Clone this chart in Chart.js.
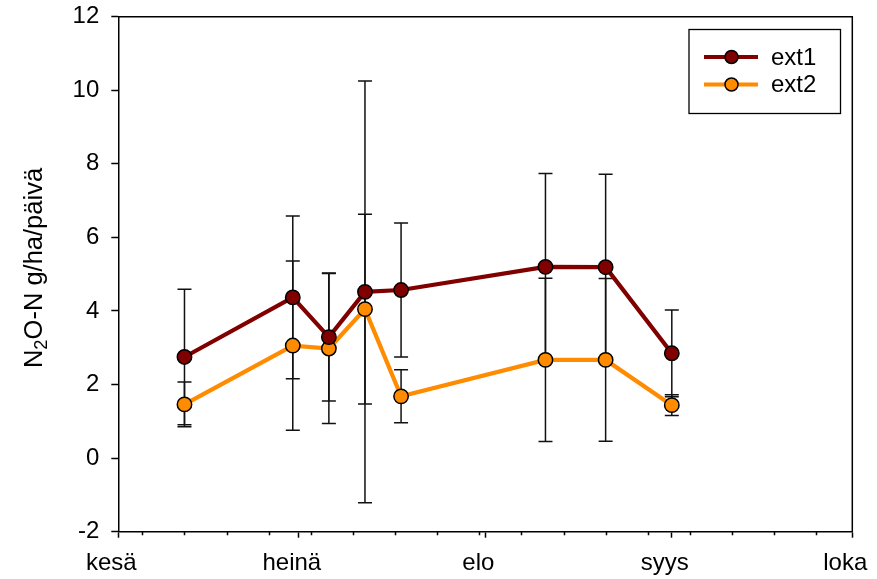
<!DOCTYPE html>
<html>
<head>
<meta charset="utf-8">
<script src="https://cdn.jsdelivr.net/npm/chart.js@4.4.1/dist/chart.umd.min.js"></script>
<style>
  html, body { margin: 0; padding: 0; background: #fff; }
  #wrap { width: 877px; height: 579px; position: relative; }
</style>
</head>
<body>
<div id="wrap"><canvas id="c" width="877" height="579"></canvas></div>
<script>
// Sampling dates (day.month.) and daily N2O-N flux, mean ± deviation
const sampleDates = ['12.6.', '30.6.', '6.7.', '12.7.', '18.7.', '11.8.', '21.8.', '1.9.'];
const ext1 = [2.75, 4.37, 3.29, 4.52, 4.57, 5.20, 5.19, 2.85];
const ext1Err = [1.84, 2.21, 1.74, 5.73, 1.82, 2.54, 2.53, 1.18];
const ext2 = [1.46, 3.06, 2.98, 4.05, 1.68, 2.67, 2.67, 1.44];
const ext2Err = [0.61, 2.30, 2.04, 2.58, 0.72, 2.22, 2.21, 0.28];

// Month axis: labels at the first day of each month, minor ticks weekly
const monthLabels = ['kesä', 'heinä', 'elo', 'syys', 'loka'];
const monthStartDates = ['1.6.', '1.7.', '1.8.', '1.9.', '1.10.'];
const weekTickDates = ['5.6.', '12.6.', '19.6.', '26.6.', '3.7.', '10.7.', '17.7.', '24.7.', '31.7.',
                       '7.8.', '14.8.', '21.8.', '28.8.', '4.9.', '11.9.', '18.9.', '25.9.'];
const yTicks = [-2, 0, 2, 4, 6, 8, 10, 12];

// Day offsets counted from 1 June
const monthLengths = {6: 30, 7: 31, 8: 31, 9: 30, 10: 31};
function dayOffset(s) {
  const [d, m] = s.split('.').map(Number);
  let off = 0;
  for (let mm = 6; mm < m; mm++) off += monthLengths[mm];
  return off + d - 1;
}
const xs = sampleDates.map(dayOffset);
const majorDays = monthStartDates.map(dayOffset);
const minorDays = weekTickDates.map(dayOffset);

const FONT = "'Liberation Sans', Arial, Helvetica, sans-serif";
const FS = 24;
const TITLE_FS = 25.5;
const C1 = '#800000';
const C2 = '#FF8C00';

const errorBars = {
  id: 'errorBars',
  beforeDatasetsDraw(chart) {
    const {ctx, scales: {x, y}} = chart;
    ctx.save();
    ctx.strokeStyle = '#111';
    ctx.lineWidth = 1.5;
    chart.data.datasets.forEach(ds => {
      ds.data.forEach((p, i) => {
        const e = ds.errors[i];
        const px = x.getPixelForValue(p.x);
        const top = y.getPixelForValue(p.y + e);
        const bot = y.getPixelForValue(p.y - e);
        ctx.beginPath();
        ctx.moveTo(px, top); ctx.lineTo(px, bot);
        ctx.moveTo(px - 7, top); ctx.lineTo(px + 7, top);
        ctx.moveTo(px - 7, bot); ctx.lineTo(px + 7, bot);
        ctx.stroke();
      });
    });
    ctx.restore();
  }
};

const frameAndTicks = {
  id: 'frameAndTicks',
  afterDraw(chart) {
    const {ctx, chartArea: a, scales: {x}} = chart;
    ctx.save();
    ctx.strokeStyle = '#000';
    ctx.lineWidth = 1.5;
    ctx.beginPath();
    ctx.moveTo(a.left, a.top); ctx.lineTo(a.right, a.top); ctx.lineTo(a.right, a.bottom);
    ctx.stroke();
    ctx.beginPath();
    minorDays.forEach(d => {
      const px = Math.round(x.getPixelForValue(d)) + 0.5;
      ctx.moveTo(px, a.bottom); ctx.lineTo(px, a.bottom + 3.5);
    });
    ctx.stroke();
    ctx.restore();
  }
};

const legendBox = {
  id: 'legendBox',
  afterDraw(chart) {
    const {ctx} = chart;
    ctx.save();
    ctx.strokeStyle = '#000';
    ctx.lineWidth = 1.3;
    ctx.strokeRect(689, 29.5, 151.5, 84);
    chart.data.datasets.forEach((ds, i) => {
      const cy = 57 + i * 27.5;
      ctx.strokeStyle = ds.borderColor;
      ctx.lineWidth = 4;
      ctx.beginPath(); ctx.moveTo(704, cy); ctx.lineTo(758, cy); ctx.stroke();
      ctx.beginPath(); ctx.arc(731.5, cy, 6.5, 0, Math.PI * 2);
      ctx.fillStyle = ds.pointBackgroundColor; ctx.fill();
      ctx.lineWidth = 1.5; ctx.strokeStyle = '#000'; ctx.stroke();
      ctx.fillStyle = '#000';
      ctx.font = FS + 'px ' + FONT;
      ctx.textBaseline = 'middle';
      ctx.textAlign = 'left';
      ctx.fillText(ds.label, 771, cy + 1);
    });
    ctx.restore();
  }
};

const yTitle = {
  id: 'yTitle',
  afterDraw(chart) {
    const {ctx} = chart;
    const parts = [['N', TITLE_FS, 0], ['2', TITLE_FS * 0.72, 7], ['O-N g/ha/päivä', TITLE_FS, 0]];
    ctx.save();
    let total = 0;
    parts.forEach(p => { ctx.font = p[1] + 'px ' + FONT; total += ctx.measureText(p[0]).width; });
    ctx.translate(35, 268);
    ctx.rotate(-Math.PI / 2);
    ctx.fillStyle = '#000';
    ctx.textBaseline = 'middle';
    ctx.textAlign = 'left';
    let cx = -total / 2;
    parts.forEach(p => {
      ctx.font = p[1] + 'px ' + FONT;
      ctx.fillText(p[0], cx, p[2]);
      cx += ctx.measureText(p[0]).width;
    });
    ctx.restore();
  }
};

function series(label, vals, errs, color) {
  return {
    label,
    data: xs.map((x, i) => ({x, y: vals[i]})),
    errors: errs,
    borderColor: color,
    backgroundColor: color,
    pointBackgroundColor: color,
    pointBorderColor: '#000',
    pointBorderWidth: 1.5,
    pointRadius: 7.2,
    borderWidth: 4.2,
    tension: 0
  };
}

new Chart(document.getElementById('c'), {
  type: 'line',
  data: {
    datasets: [
      series('ext1', ext1, ext1Err, C1),
      series('ext2', ext2, ext2Err, C2)
    ]
  },
  options: {
    responsive: false,
    animation: false,
    layout: {padding: {top: 16.7, right: 24.7, left: 0, bottom: 0}},
    plugins: {legend: {display: false}, tooltip: {enabled: false}},
    scales: {
      x: {
        type: 'linear',
        min: majorDays[0],
        max: majorDays[majorDays.length - 1],
        afterBuildTicks: s => { s.ticks = majorDays.map(v => ({value: v})); },
        afterFit: s => { s.height = 47.3; s.paddingLeft = 0; s.paddingRight = 0; },
        border: {color: '#000', width: 1.5},
        grid: {drawOnChartArea: false, drawTicks: true, tickLength: 6, tickColor: '#000', tickWidth: 1.5},
        ticks: {
          autoSkip: false, maxRotation: 0, padding: 11, color: '#000',
          font: {family: FONT, size: FS},
          labelOffset: -7,
          callback: (v, i) => monthLabels[i]
        }
      },
      y: {
        min: yTicks[0],
        max: yTicks[yTicks.length - 1],
        afterBuildTicks: s => { s.ticks = yTicks.map(v => ({value: v})); },
        afterFit: s => { s.width = 118.3; s.paddingTop = 0; s.paddingBottom = 0; },
        border: {color: '#000', width: 1.5},
        grid: {drawOnChartArea: false, drawTicks: true, tickLength: 7, tickColor: '#000', tickWidth: 1.5},
        ticks: {padding: 12, color: '#000', font: {family: FONT, size: FS}}
      }
    }
  },
  plugins: [errorBars, frameAndTicks, legendBox, yTitle]
});
</script>
</body>
</html>
